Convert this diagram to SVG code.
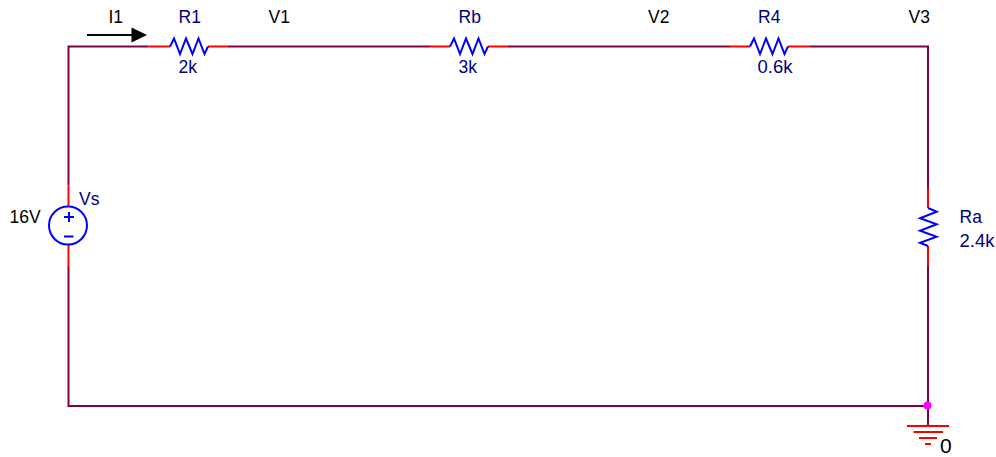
<svg xmlns="http://www.w3.org/2000/svg" width="996" height="457" viewBox="0 0 996 457">
<style>
text{font-family:"Liberation Sans",Arial,sans-serif;font-size:17.500px}
.l{fill:#000080}
.k{fill:#000}
.v{font-size:18.500px}
.w{fill:none;stroke:#800040;stroke-width:2}
.r{fill:none;stroke:#ff0000;stroke-width:2}
.b{fill:none;stroke:#0000ff;stroke-width:2}
</style>
<rect width="996" height="457" fill="#fff"/>
<g id="connectors">
<path class="w" d="M148.500 46.500H68.500V185.500M68.500 267V406H927.500M228 46.500H430M508 46.500H730M810 46.500H928V187M928 266V426"/>
</g>
<g id="I1">
<text class="k" x="108.500" y="23">I1</text>
<path d="M87 35H132" stroke="#000" stroke-width="2" fill="none"/>
<path d="M131.500 27.500L147 35L131.500 42.500Z" fill="#000"/>
</g>
<g id="R1">
<path class="r" d="M148.500 46.500H170M208 46.500H228"/>
<path class="b" d="M170 46.500L174 38.500L180 54L186 38.500L192.500 54L198.500 38.500L204.500 54L208 46.500"/>
<text class="l" x="178.500" y="23">R1</text>
<text class="l" x="178.500" y="73">2k</text>
</g>
<g id="V1"><text class="k" x="268.500" y="23">V1</text></g>
<g id="Rb">
<path class="r" d="M430 46.500H450M488 46.500H508"/>
<path class="b" d="M450 46.500L454 38.500L460 54L466 38.500L472.500 54L478.500 38.500L484.500 54L488 46.500"/>
<text class="l" x="458.500" y="23">Rb</text>
<text class="l" x="458.500" y="73">3k</text>
</g>
<g id="V2"><text class="k" x="648" y="23">V2</text></g>
<g id="R4">
<path class="r" d="M730 46.500H750M788 46.500H810"/>
<path class="b" d="M750 46.500L754 38.500L760 54L766 38.500L772.500 54L778.500 38.500L784.500 54L788 46.500"/>
<text class="l" x="758" y="23">R4</text>
<text class="l v" x="757.500" y="73">0.6k</text>
</g>
<g id="V3"><text class="k" x="908.500" y="23">V3</text></g>
<g id="Vs">
<path class="r" d="M68.500 185.500V206M68.500 244.500V267"/>
<circle class="b" cx="68" cy="225.500" r="19"/>
<path class="b" d="M64 217H74M69 212V222M64 236.500H73.500"/>
<text class="l" x="79" y="205">Vs</text>
<text class="k" x="9.500" y="223">16V</text>
</g>
<g id="Ra">
<path class="r" d="M928 187V208M928 246V266"/>
<path class="b" d="M928 208L936.700 211.700L920 218.300L936.700 224.300L920 230.700L936.700 236.700L920 242.700L928 246"/>
<text class="l" x="959.500" y="223">Ra</text>
<text class="l v" x="959.500" y="247">2.4k</text>
</g>
<g id="ground">
<path class="r" d="M907 426H949M913.500 432H943M919 438H937M925 444H931"/>
<text class="k" x="940" y="452.500" style="font-size:21px">0</text>
</g>
<g id="junction"><circle cx="927.500" cy="405.500" r="4" fill="#ff00ff"/></g>
</svg>
